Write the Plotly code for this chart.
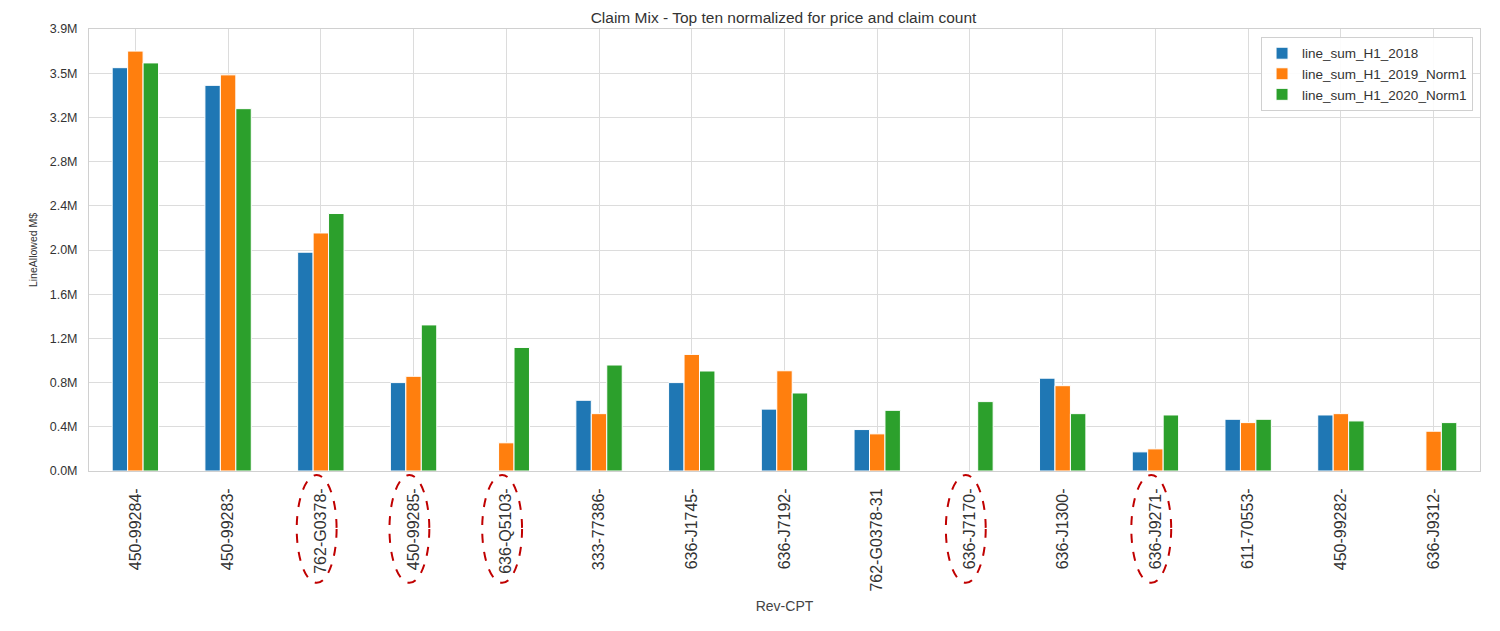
import plotly.graph_objects as go

categories = ["450-99284-", "450-99283-", "762-G0378-", "450-99285-", "636-Q5103-",
              "333-77386-", "636-J1745-", "636-J7192-", "762-G0378-31", "636-J7170-",
              "636-J1300-", "636-J9271-", "611-70553-", "450-99282-", "636-J9312-"]

s2018 = [3.65, 3.49, 1.98, 0.80, None, 0.64, 0.80, 0.56, 0.375, None, 0.84, 0.173, 0.468, 0.507, None]
s2019 = [3.80, 3.585, 2.154, 0.857, 0.255, 0.519, 1.055, 0.907, 0.336, None, 0.772, 0.20, 0.438, 0.519, 0.36]
s2020 = [3.693, 3.279, 2.33, 1.322, 1.118, 0.959, 0.905, 0.706, 0.549, 0.628, 0.519, 0.507, 0.468, 0.453, 0.438]

series_names = ["line_sum_H1_2018", "line_sum_H1_2019_Norm1", "line_sum_H1_2020_Norm1"]
colors = ["#1f77b4", "#ff7f0e", "#2ca02c"]

tick_vals = [0, 0.4, 0.8, 1.2, 1.6, 2.0, 2.4, 2.8, 3.2, 3.6, 4.0]
tick_text = ["0.0M", "0.4M", "0.8M", "1.2M", "1.6M", "2.0M", "2.4M", "2.8M", "3.2M", "3.5M", "3.9M"]

circled = ["762-G0378-", "450-99285-", "636-Q5103-", "636-J7170-", "636-J9271-"]

fig = go.Figure()
for name, vals, c in zip(series_names, [s2018, s2019, s2020], colors):
    fig.add_trace(go.Bar(x=list(range(len(categories))), y=vals, name=name,
                         marker=dict(color=c, line=dict(color="white", width=1))))

for lab in circled:
    i = categories.index(lab)
    fig.add_shape(type="circle", xref="x", yref="paper",
                  x0=i - 0.26, x1=i + 0.17, y0=-0.253, y1=-0.009,
                  line=dict(color="#c00000", width=2, dash="dash"))

fig.update_layout(
    width=1500, height=631,
    margin=dict(l=81, r=28, t=21, b=168),
    paper_bgcolor="white", plot_bgcolor="white",
    font=dict(family="Liberation Sans, Arial, sans-serif", color="#333333"),
    title=dict(text="Claim Mix - Top ten normalized for price and claim count",
               x=0.517, xanchor="center", y=0.985, yanchor="middle",
               font=dict(size=15.5, color="#333333")),
    barmode="group", bargap=0.5, bargroupgap=0,
    showlegend=True,
    legend=dict(x=0.995, xanchor="right", y=0.982, yanchor="top",
                bgcolor="rgba(255,255,255,0.9)", bordercolor="#d0d0d0", borderwidth=1,
                font=dict(size=13.5, color="#333333")),
    xaxis=dict(tickmode="array", tickvals=list(range(len(categories))), ticktext=categories,
               tickangle=-90, tickfont=dict(size=16, color="#333333"),
               ticklabelstandoff=10,
               range=[-0.5, len(categories) - 0.5],
               showgrid=True, gridcolor="#dcdcdc", gridwidth=1,
               showline=True, linecolor="#d0d0d0", mirror=True, ticks="",
               title=dict(text="Rev-CPT", font=dict(size=14, color="#444444"), standoff=10),
               zeroline=False),
    yaxis=dict(tickmode="array", tickvals=tick_vals, ticktext=tick_text,
               range=[0, 4.0], tickfont=dict(size=12.5, color="#333333"),
               ticklabelstandoff=8,
               showgrid=True, gridcolor="#dcdcdc", gridwidth=1,
               showline=True, linecolor="#d0d0d0", mirror=True, ticks="",
               title=dict(text="LineAllowed M$", font=dict(size=10.5, color="#333333"), standoff=10),
               zeroline=False),
)

fig.write_html("out.html")
